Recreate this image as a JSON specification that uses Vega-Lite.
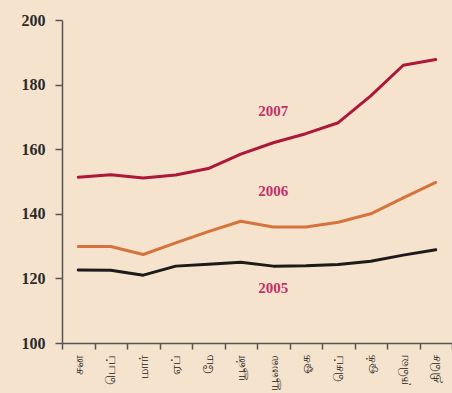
{
  "$schema": "https://vega.github.io/schema/vega-lite/v6.json",
  "width": 390,
  "height": 323,
  "autosize": {"type": "none"},
  "padding": {"left": 62, "top": 20, "right": 0, "bottom": 50},
  "background": "#f6e3cd",
  "config": {"view": {"stroke": null}, "axis": {"grid": false}},
  "datasets": {
    "series": [
      {"month": "சன", "year": "2005", "value": 122.6},
      {"month": "பெப்", "year": "2005", "value": 122.5},
      {"month": "மார்", "year": "2005", "value": 121.0},
      {"month": "ஏப்", "year": "2005", "value": 123.8},
      {"month": "மே", "year": "2005", "value": 124.4},
      {"month": "யூன்", "year": "2005", "value": 125.0},
      {"month": "யூலை", "year": "2005", "value": 123.8},
      {"month": "ஓக", "year": "2005", "value": 123.9},
      {"month": "செப்", "year": "2005", "value": 124.3},
      {"month": "ஒக்", "year": "2005", "value": 125.3},
      {"month": "நவெ", "year": "2005", "value": 127.2},
      {"month": "திசெ", "year": "2005", "value": 128.9},
      {"month": "சன", "year": "2006", "value": 129.9},
      {"month": "பெப்", "year": "2006", "value": 129.9},
      {"month": "மார்", "year": "2006", "value": 127.4},
      {"month": "ஏப்", "year": "2006", "value": 131.0},
      {"month": "மே", "year": "2006", "value": 134.5},
      {"month": "யூன்", "year": "2006", "value": 137.7},
      {"month": "யூலை", "year": "2006", "value": 135.9},
      {"month": "ஓக", "year": "2006", "value": 135.9},
      {"month": "செப்", "year": "2006", "value": 137.4},
      {"month": "ஒக்", "year": "2006", "value": 140.0},
      {"month": "நவெ", "year": "2006", "value": 144.9},
      {"month": "திசெ", "year": "2006", "value": 149.7},
      {"month": "சன", "year": "2007", "value": 151.3},
      {"month": "பெப்", "year": "2007", "value": 152.1},
      {"month": "மார்", "year": "2007", "value": 151.1},
      {"month": "ஏப்", "year": "2007", "value": 152.0},
      {"month": "மே", "year": "2007", "value": 154.0},
      {"month": "யூன்", "year": "2007", "value": 158.5},
      {"month": "யூலை", "year": "2007", "value": 162.0},
      {"month": "ஓக", "year": "2007", "value": 164.8},
      {"month": "செப்", "year": "2007", "value": 168.2},
      {"month": "ஒக்", "year": "2007", "value": 176.5},
      {"month": "நவெ", "year": "2007", "value": 186.0},
      {"month": "திசெ", "year": "2007", "value": 187.8}
    ],
    "labels": [
      {"month": "யூலை", "year": "2007", "value": 171.8},
      {"month": "யூலை", "year": "2006", "value": 147.2},
      {"month": "யூலை", "year": "2005", "value": 117.0}
    ]
  },
  "layer": [
    {
      "data": {"name": "series"},
      "mark": {"type": "line", "strokeWidth": 3, "interpolate": "linear", "strokeJoin": "round", "strokeCap": "round"},
      "encoding": {
        "x": {
          "field": "month",
          "type": "ordinal",
          "sort": ["சன", "பெப்", "மார்", "ஏப்", "மே", "யூன்", "யூலை", "ஓக", "செப்", "ஒக்", "நவெ", "திசெ"],
          "scale": {"type": "band", "paddingInner": 0, "paddingOuter": 0},
          "axis": {
            "title": null,
            "labelAngle": -90,
            "tickBand": "extent",
            "tickSize": 6,
            "tickColor": "#555555",
            "domainColor": "#555555",
            "domainWidth": 1.5,
            "tickWidth": 1.5,
            "labelFont": "Noto Sans",
            "labelFontSize": 13,
            "labelColor": "#222222",
            "labelPadding": 5
          }
        },
        "y": {
          "field": "value",
          "type": "quantitative",
          "scale": {"domain": [100, 200]},
          "axis": {
            "title": null,
            "values": [100, 120, 140, 160, 180, 200],
            "tickSize": 7,
            "tickColor": "#555555",
            "domainColor": "#555555",
            "domainWidth": 1.5,
            "tickWidth": 1.5,
            "labelFont": "Liberation Serif",
            "labelFontWeight": "bold",
            "labelFontSize": 16,
            "labelColor": "#2a2a2a",
            "labelPadding": 10
          }
        },
        "color": {
          "field": "year",
          "type": "nominal",
          "scale": {"domain": ["2005", "2006", "2007"], "range": ["#1c1a1a", "#d5733c", "#ad173a"]},
          "legend": null
        }
      }
    },
    {
      "data": {"name": "labels"},
      "mark": {"type": "text", "font": "Liberation Serif", "fontWeight": "bold", "fontSize": 15, "color": "#c2306c"},
      "encoding": {
        "x": {
          "field": "month",
          "type": "ordinal",
          "sort": ["சன", "பெப்", "மார்", "ஏப்", "மே", "யூன்", "யூலை", "ஓக", "செப்", "ஒக்", "நவெ", "திசெ"]
        },
        "y": {"field": "value", "type": "quantitative"},
        "text": {"field": "year"}
      }
    }
  ]
}
